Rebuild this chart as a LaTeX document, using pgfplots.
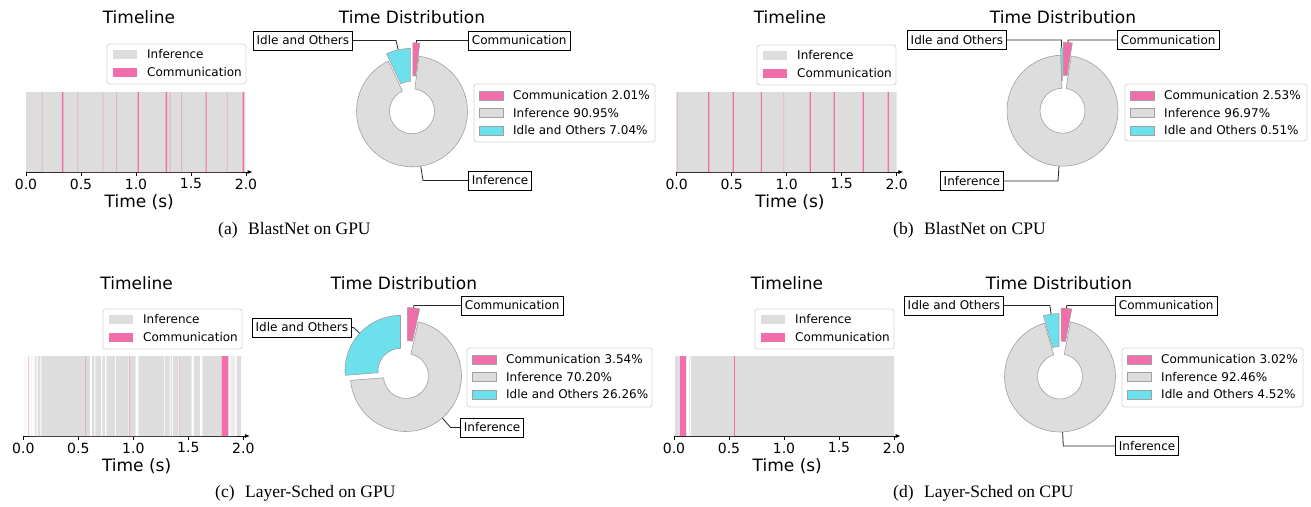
\documentclass[border=0pt]{standalone}
\usepackage{fontspec}
\newfontfamily\dv{DejaVu Sans}
\newfontfamily\capf{Liberation Serif}
\usepackage{pgfplots}
\pgfplotsset{compat=1.18}
\usetikzlibrary{calc,arrows.meta}
\definecolor{infgray}{HTML}{DDDDDD}
\definecolor{commpink}{HTML}{F06EAA}
\definecolor{idlecyan}{HTML}{6CE0EC}
\definecolor{edgegray}{HTML}{A0A0A0}
\definecolor{legedge}{HTML}{D5D5D5}
\colorlet{commfaint}{commpink!40!infgray}
\colorlet{lightinf}{infgray!55!white}
\newcommand\fT{\dv\fontsize{17}{20}\selectfont}
\newcommand\fK{\dv\fontsize{14}{16}\selectfont}
\newcommand\fL{\dv\fontsize{12}{14}\selectfont}
\newcommand\fC{\capf\fontsize{17.5}{20}\selectfont}
\pgfplotsset{
 tl/.style={scale only axis, width=226.6pt, height=80pt, xmin=0, xmax=2.06, ymin=0, ymax=1,
  anchor=south west, axis x line=bottom, axis y line=none,
  x axis line style={line width=0.8pt, -{Latex[length=5pt,width=4pt]}},
  xtick={0,0.5,1,1.5,2}, ytick=\empty, tick align=outside, major tick length=3.5pt,
  xtick style={line width=0.8pt, black},
  /pgf/number format/assume math mode=true,
  xticklabel={\fK\pgfmathprintnumber[fixed,fixed zerofill,precision=1]{\tick}},
  xticklabel style={inner sep=0pt, anchor=north, yshift=-3pt},
  xlabel={Time (s)}, xlabel style={font=\fT, at={(axis description cs:0.5,0)}, anchor=center, yshift=-30pt, inner sep=0pt},
  clip=false},
 pie/.style={anchor=south west, scale only axis, width=111pt, height=111pt,
  xmin=-1, xmax=1, ymin=-1, ymax=1, hide axis, clip=false}
}
% donut wedge from cumulative percent #1 to #2, explode #3 (pt), colour #4
\newcommand\pwedge[4]{%
 \filldraw[fill=#4, draw=edgegray, line width=0.6pt]
 ($(axis cs:0,0)+({90-1.8*(#1+#2)}:#3pt)+({90-3.6*#1}:55.5pt)$)
 arc[start angle={90-3.6*#1}, end angle={90-3.6*#2}, radius=55.5pt]
 -- ($(axis cs:0,0)+({90-1.8*(#1+#2)}:#3pt)+({90-3.6*#2}:22.5pt)$)
 arc[start angle={90-3.6*#2}, end angle={90-3.6*#1}, radius=22.5pt] -- cycle;}
% leader line: cx cy p0 p1 texty edgex
\newcommand\annot[6]{%
 \pgfmathsetmacro\mang{90-1.8*(#3+#4)}%
 \pgfmathsetmacro\cornx{#1+(#2-#5)*cot(\mang)}%
 \pgfmathsetmacro\xyx{#1+55.5*cos(\mang)}%
 \pgfmathsetmacro\xyy{#2-55.5*sin(\mang)}%
 \draw[black!85, line width=0.8pt] (#6pt,-#5pt) -- (\cornx pt,-#5pt) -- (\xyx pt,-\xyy pt);}
\newcommand\abox[4]{\node[draw=black, line width=0.8pt, fill=white, font=\fL, inner xsep=3.5pt, inner ysep=0pt, minimum height=19pt, anchor=#3] at (#1pt,-#2pt) {#4};}
\newcommand\tlleg[2]{\begin{scope}[shift={(#1pt,-#2pt)}]
 \draw[legedge, fill=white, rounded corners=2.5pt, line width=0.8pt] (0pt,0pt) rectangle (139pt,-40pt);
 \fill[infgray] (6pt,-5.5pt) rectangle (30pt,-14.5pt);
 \fill[commpink] (6pt,-23.5pt) rectangle (30pt,-32.5pt);
 \node[anchor=west, inner sep=0pt, font=\fL] at (40pt,-10pt) {Inference};
 \node[anchor=west, inner sep=0pt, font=\fL] at (40pt,-28pt) {Communication};
\end{scope}}
\newcommand\pieleg[7]{\begin{scope}[shift={(#1pt,-#2pt)}]
 \draw[legedge, fill=white, rounded corners=2.5pt, line width=0.8pt] (0pt,0pt) rectangle (#3pt,-#4pt);
 \filldraw[fill=commpink, draw=edgegray, line width=0.6pt] (5pt,-7pt) rectangle (29pt,-16pt);
 \filldraw[fill=infgray, draw=edgegray, line width=0.6pt] (5pt,-24.5pt) rectangle (29pt,-33.5pt);
 \filldraw[fill=idlecyan, draw=edgegray, line width=0.6pt] (5pt,-42pt) rectangle (29pt,-51pt);
 \node[anchor=west, inner sep=0pt, font=\fL] at (39pt,-11.5pt) {Communication #5\%};
 \node[anchor=west, inner sep=0pt, font=\fL] at (39pt,-29pt) {Inference #6\%};
 \node[anchor=west, inner sep=0pt, font=\fL] at (39pt,-46.5pt) {Idle and Others #7\%};
\end{scope}}
\begin{document}
\begin{tikzpicture}
\useasboundingbox (0pt,0pt) rectangle (1311pt,-506pt);
% ---------------- titles
\foreach \x/\y in {139/17, 790/17, 136.6/282.7, 787/282.7}
  \node[font=\fT, inner sep=0pt] at (\x pt,-\y pt) {Timeline};
\foreach \x/\y in {412/17, 1063/17, 404/282.7, 1059/282.7}
  \node[font=\fT, inner sep=0pt] at (\x pt,-\y pt) {Time Distribution};
% ---------------- timelines
\begin{axis}[tl, at={(26pt,-172pt)}]
\addplot[const plot, fill=infgray, draw=none] coordinates {(0,1) (1.995,0)} \closedcycle;
\addplot[const plot, fill=commfaint, draw=none] coordinates {
(0.144,1) (0.152,0) (0.466,1) (0.474,0) (0.696,1) (0.704,0) (0.820,1) (0.828,0)
(1.306,1) (1.314,0) (1.411,1) (1.419,0) (1.826,1) (1.834,0)} \closedcycle;
\addplot[const plot, fill=commpink, draw=none] coordinates {
(0.327,1) (0.340,0) (1.014,1) (1.027,0) (1.270,1) (1.283,0)
(1.632,1) (1.641,0) (1.970,1) (1.983,0)} \closedcycle;
\end{axis}
\begin{axis}[tl, at={(676.7pt,-172pt)}]
\addplot[const plot, fill=infgray, draw=none] coordinates {(0,1) (2.0,0)} \closedcycle;
\addplot[const plot, fill=commfaint, draw=none] coordinates {
(0.000,1) (0.008,0) (0.969,1) (0.977,0)} \closedcycle;
\addplot[const plot, fill=commpink, draw=none] coordinates {
(0.285,1) (0.296,0) (0.509,1) (0.520,0) (0.764,1) (0.775,0)
(1.209,1) (1.220,0) (1.427,1) (1.438,0) (1.691,1) (1.702,0)
(1.918,1) (1.929,0)} \closedcycle;
\end{axis}
\begin{axis}[tl, at={(23.3pt,-436pt)}]
\addplot[const plot, fill=lightinf, draw=none] coordinates {
(0.013,1) (0.018,0) (0.034,1) (0.038,0) (0.074,1) (0.079,0) (0.095,1) (0.099,0)
(1.882,1) (1.924,0)} \closedcycle;
\addplot[const plot, fill=infgray, draw=none] coordinates {
(0.106,1) (0.118,0) (0.130,1) (0.155,0) (0.164,1) (0.606,0) (0.624,1) (0.645,0)
(0.655,1) (0.706,0) (0.718,1) (0.742,0) (0.755,1) (0.833,0) (0.842,1) (0.955,0)
(0.970,1) (1.020,0) (1.045,1) (1.282,0) (1.290,1) (1.330,0) (1.340,1) (1.350,0)
(1.360,1) (1.410,0) (1.418,1) (1.530,0) (1.550,1) (1.606,0) (1.627,1) (1.803,0)
(1.940,1) (1.980,0)} \closedcycle;
\addplot[const plot, fill=commfaint, draw=none] coordinates {
(0.046,1) (0.054,0) (0.563,1) (0.571,0) (0.960,1) (0.968,0) (1.414,1) (1.422,0)} \closedcycle;
\addplot[const plot, fill=commpink, draw=none] coordinates {
(1.803,1) (1.864,0)} \closedcycle;
\end{axis}
\begin{axis}[tl, at={(674pt,-436pt)}]
\addplot[const plot, fill=infgray, draw=none] coordinates {
(0.009,1) (0.055,0) (0.106,1) (0.115,0) (0.140,1) (0.146,0) (0.155,1) (2.0,0)} \closedcycle;
\addplot[const plot, fill=commpink, draw=none] coordinates {
(0.055,1) (0.107,0) (0.546,1) (0.554,0)} \closedcycle;
\end{axis}
\tlleg{107}{44}
\tlleg{757}{45}
\tlleg{103}{309}
\tlleg{755}{309}
% ---------------- leader lines (under the wedges)
\annot{412}{111.3}{0}{2.01}{40.5}{468}
\annot{412}{111.3}{2.01}{92.96}{180.5}{468}
\annot{412}{111.3}{92.96}{100}{40.5}{353}
\annot{1062.5}{110.7}{0}{2.53}{40}{1117}
\annot{1062.5}{110.7}{2.53}{99.50}{181}{1004}
\annot{1062.5}{110.7}{99.50}{100}{40}{1007}
\annot{406}{376}{0}{3.54}{305.5}{461}
\annot{406}{376}{3.54}{73.74}{427.5}{460}
\annot{406}{376}{73.74}{100}{327.5}{352}
\annot{1060}{376.5}{0}{3.02}{305.5}{1115}
\annot{1060}{376.5}{3.02}{95.48}{446}{1115}
\annot{1060}{376.5}{95.48}{100}{305.5}{1004}
% ---------------- donuts
\begin{axis}[pie, at={(356.5pt,-166.8pt)}]
\pwedge{0}{2.01}{13}{commpink}
\pwedge{2.01}{92.96}{0}{infgray}
\pwedge{92.96}{100}{7.5}{idlecyan}
\end{axis}
\begin{axis}[pie, at={(1007pt,-166.2pt)}]
\pwedge{0}{2.53}{13}{commpink}
\pwedge{2.53}{99.50}{0}{infgray}
\pwedge{99.50}{100}{7.5}{idlecyan}
\end{axis}
\begin{axis}[pie, at={(350.5pt,-431.5pt)}]
\pwedge{0}{3.54}{13}{commpink}
\pwedge{3.54}{73.74}{0}{infgray}
\pwedge{73.74}{100}{7.5}{idlecyan}
\end{axis}
\begin{axis}[pie, at={(1004.5pt,-432pt)}]
\pwedge{0}{3.02}{13}{commpink}
\pwedge{3.02}{95.48}{0}{infgray}
\pwedge{95.48}{100}{7.5}{idlecyan}
\end{axis}
% ---------------- annotation boxes
\abox{468}{40.5}{west}{Communication}
\abox{468}{180.5}{west}{Inference}
\abox{353}{40.5}{east}{Idle and Others}
\abox{1117}{40}{west}{Communication}
\abox{1004}{181}{east}{Inference}
\abox{1007}{40}{east}{Idle and Others}
\abox{461}{305.5}{west}{Communication}
\abox{460}{427.5}{west}{Inference}
\abox{352}{327.5}{east}{Idle and Others}
\abox{1115}{305.5}{west}{Communication}
\abox{1115}{446}{west}{Inference}
\abox{1004}{305.5}{east}{Idle and Others}
% ---------------- pie legends
\pieleg{474}{84}{181}{58}{2.01}{90.95}{7.04}
\pieleg{1125}{84}{182}{57}{2.53}{96.97}{0.51}
\pieleg{467}{348}{185}{59}{3.54}{70.20}{26.26}
\pieleg{1122}{348}{181}{59}{3.02}{92.46}{4.52}
% ---------------- captions
\node[anchor=west, font=\fC, inner sep=0pt] at (218pt,-230.5pt) {(a)\hspace{0.6em}BlastNet on GPU};
\node[anchor=west, font=\fC, inner sep=0pt] at (893pt,-230.5pt) {(b)\hspace{0.6em}BlastNet on CPU};
\node[anchor=west, font=\fC, inner sep=0pt] at (215pt,-493.5pt) {(c)\hspace{0.6em}Layer-Sched on GPU};
\node[anchor=west, font=\fC, inner sep=0pt] at (893pt,-493.5pt) {(d)\hspace{0.6em}Layer-Sched on CPU};
\end{tikzpicture}
\end{document}
